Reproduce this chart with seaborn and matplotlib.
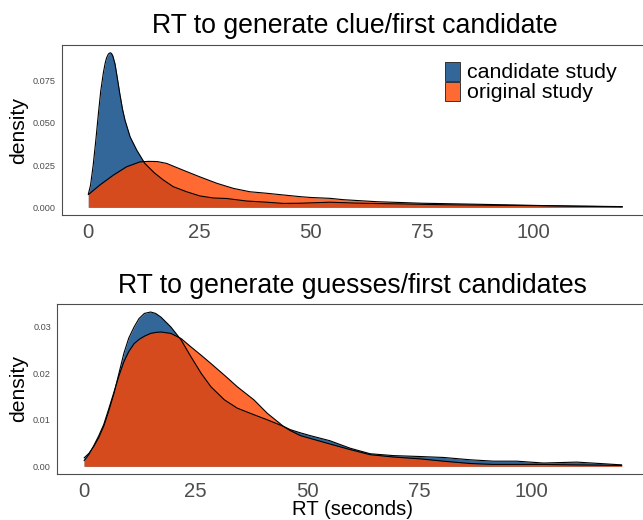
import matplotlib
matplotlib.use("Agg")
import matplotlib.pyplot as plt
import seaborn as sns
import numpy as np
import pandas as pd
from matplotlib.patches import Rectangle

# ---------------- data ----------------
series_names = ["candidate study", "original study"]
series_colors = ["#004080", "#FF4500"]
fill_alpha = 0.8

titles = ["RT to generate clue/first candidate", "RT to generate guesses/first candidates"]
x_ticks = [0, 25, 50, 75, 100]
y_ticks_top = [0.000, 0.025, 0.050, 0.075]
y_ticklabels_top = ["0.000", "0.025", "0.050", "0.075"]
y_ticks_bot = [0.00, 0.01, 0.02, 0.03]
y_ticklabels_bot = ["0.00", "0.01", "0.02", "0.03"]

# top panel: clue / first candidate
cand_top_x = [0, 0.5, 1.1, 1.7, 2.25, 2.8, 3.4, 3.8, 4.1, 4.5, 4.9, 5.2, 5.5, 6.0, 6.5,
              7.1, 7.7, 8.25, 9.4, 10.9, 12.7, 14.8, 16.9, 19.1, 22.1, 25.1, 28.1, 31.1,
              35.6, 40.1, 43.8, 47.6, 54.3, 60, 65, 70, 80, 90, 100, 110, 120]
cand_top_y = [0.0077, 0.013, 0.025, 0.040, 0.055, 0.069, 0.080, 0.0855, 0.0885, 0.0908,
              0.0916, 0.0912, 0.0898, 0.085, 0.077, 0.067, 0.058, 0.0516, 0.0417, 0.0338,
              0.026, 0.0205, 0.0161, 0.0122, 0.0092, 0.0067, 0.0055, 0.0052, 0.0037,
              0.0030, 0.0023, 0.0024, 0.0030, 0.0025, 0.0022, 0.0020, 0.0015, 0.0012,
              0.0010, 0.0007, 0.0004]
orig_top_x = [0, 2.6, 5.6, 8.6, 11.6, 13.5, 15.5, 17.6, 21.3, 25.1, 28.9, 32.6, 36.3,
              40.1, 43.8, 47.6, 50, 54.3, 57.3, 64.8, 74.9, 87.3, 98.5, 109.8, 120]
orig_top_y = [0.0075, 0.0132, 0.019, 0.024, 0.0269, 0.0272, 0.0271, 0.026, 0.022, 0.018,
              0.0142, 0.0112, 0.0092, 0.0083, 0.0073, 0.0063, 0.0058, 0.0053, 0.0045,
              0.0033, 0.0024, 0.0018, 0.0012, 0.0006, 0.0003]

# bottom panel: guesses / first candidates
cand_bot_x = [0, 1.1, 2.2, 3.3, 4.4, 5.5, 6.7, 7.8, 8.9, 10.0, 11.2, 12.3, 13.5, 14.9,
              16.0, 17.2, 19.4, 21.7, 23.9, 26.2, 28.4, 31.4, 34.3, 38.0, 41.0, 44.6,
              46.1, 48.4, 50.6, 55, 59.5, 64, 69.2, 75.2, 80.4, 86.4, 91.6, 96.8, 102.8,
              110.2, 115.4, 120.3]
cand_bot_y = [0.0018, 0.0028, 0.0043, 0.0062, 0.0086, 0.0118, 0.0157, 0.0200, 0.0243,
              0.0276, 0.0300, 0.0318, 0.0329, 0.0332, 0.0329, 0.0321, 0.0300, 0.0272,
              0.0236, 0.0200, 0.0171, 0.0143, 0.0125, 0.0111, 0.0100, 0.0086, 0.0079,
              0.0072, 0.0066, 0.0055, 0.0039, 0.0027, 0.0023, 0.0021, 0.0019, 0.0014,
              0.0011, 0.0011, 0.0007, 0.0009, 0.0006, 0.0003]
orig_bot_x = [0, 1.1, 2.2, 3.3, 4.4, 5.5, 6.7, 7.8, 8.9, 10.0, 11.2, 12.3, 13.5, 14.9,
              16.0, 17.2, 19.4, 21.7, 23.9, 26.2, 28.4, 31.4, 34.3, 38.0, 41.0, 44.6,
              46.1, 48.4, 50.6, 55, 59.5, 64, 69.2, 75.2, 80.4, 86.4, 91.6, 96.8, 102.8,
              110.2, 120.3]
orig_bot_y = [0.0012, 0.0026, 0.0045, 0.0066, 0.0090, 0.0123, 0.0160, 0.0195, 0.0225,
              0.0247, 0.0264, 0.0273, 0.0280, 0.0286, 0.0288, 0.0289, 0.0286, 0.0275,
              0.0257, 0.0239, 0.0221, 0.0196, 0.0171, 0.0143, 0.0114, 0.0086, 0.0077,
              0.0066, 0.0060, 0.0048, 0.0036, 0.0025, 0.0020, 0.0016, 0.0011, 0.0006,
              0.0004, 0.0004, 0.0004, 0.0003, 0.0002]

# ---------------- styling ----------------
sns.set_style("white")
plt.rcParams['font.family'] = ['Liberation Sans', 'DejaVu Sans']

W, H = 643, 520
fig = plt.figure(figsize=(W / 100, H / 100), dpi=100)


def axes_px(l, t, r, b):
    return fig.add_axes([l / W, 1 - b / H, (r - l) / W, (b - t) / H])


def draw_panel(ax, curves, yticks, yticklabels):
    all_x = np.concatenate([np.asarray(c[0]) for c in curves])
    all_y = np.concatenate([np.asarray(c[1]) for c in curves])
    for (xs, ys), col in zip(curves, series_colors):
        df = pd.DataFrame({"RT": xs, "density": ys})
        ax.fill_between(df["RT"], 0, df["density"], color=col, alpha=fill_alpha, lw=0)
        sns.lineplot(data=df, x="RT", y="density", ax=ax, color="black", lw=0.8,
                     sort=False, estimator=None)
    xr = all_x.max() - all_x.min()
    ax.set_xlim(all_x.min() - 0.05 * xr, all_x.max() + 0.05 * xr)
    ymax = all_y.max()
    ax.set_ylim(-0.05 * ymax, 1.05 * ymax)
    ax.set_xticks(x_ticks)
    ax.set_xticklabels([str(t) for t in x_ticks])
    ax.set_yticks(yticks)
    ax.set_yticklabels(yticklabels)
    ax.set_xlabel("")
    ax.set_ylabel("")
    for name, s in ax.spines.items():
        s.set_visible(name != "right")
        s.set_color("#4d4d4d")
        s.set_linewidth(0.8)
    ax.tick_params(axis="both", direction="out", length=3, width=0.8, color="#4d4d4d")
    ax.tick_params(axis="x", labelsize=14.6, labelcolor="#4D4D4D", pad=2.5)
    ax.tick_params(axis="y", labelsize=6.6, labelcolor="#4D4D4D", pad=1.5)
    ax.grid(False)


ax1 = axes_px(61.6, 45, 649, 215)
draw_panel(ax1, [(cand_top_x, cand_top_y), (orig_top_x, orig_top_y)],
           y_ticks_top, y_ticklabels_top)
ax2 = axes_px(57.2, 304.3, 648.6, 474)
draw_panel(ax2, [(cand_bot_x, cand_bot_y), (orig_bot_x, orig_bot_y)],
           y_ticks_bot, y_ticklabels_bot)

# titles
fig.text(355.3 / W, 1 - 33.3 / H, titles[0], ha="center", va="baseline", fontsize=19.2,
         color="black")
fig.text(352.9 / W, 1 - 293.3 / H, titles[1], ha="center", va="baseline", fontsize=19.2,
         color="black")

# axis titles
fig.text(19 / W, 1 - 130 / H, "density", rotation=90, ha="center", va="center",
         fontsize=15.2, color="black")
fig.text(19 / W, 1 - 389 / H, "density", rotation=90, ha="center", va="center",
         fontsize=15.2, color="black")
fig.text(352.9 / W, 1 - 515 / H, "RT (seconds)", ha="center", va="baseline",
         fontsize=14.6, color="black")

# legend (inside top panel)
key_tops = [61.7, 81.7]
baselines = [78.3, 97.7]
for name, col, kt, bl in zip(series_names, series_colors, key_tops, baselines):
    fig.patches.append(Rectangle((445 / W, 1 - (kt + 19) / H), 15 / W, 19 / H,
                                 transform=fig.transFigure, facecolor=col,
                                 alpha=fill_alpha, edgecolor="none"))
    fig.patches.append(Rectangle((445 / W, 1 - (kt + 19) / H), 15 / W, 19 / H,
                                 transform=fig.transFigure, facecolor="none",
                                 edgecolor="#333333", lw=0.7))
    fig.text(467 / W, 1 - bl / H, name, ha="left", va="baseline", fontsize=15.4,
             color="black")

fig.savefig("out.png", dpi=100)
